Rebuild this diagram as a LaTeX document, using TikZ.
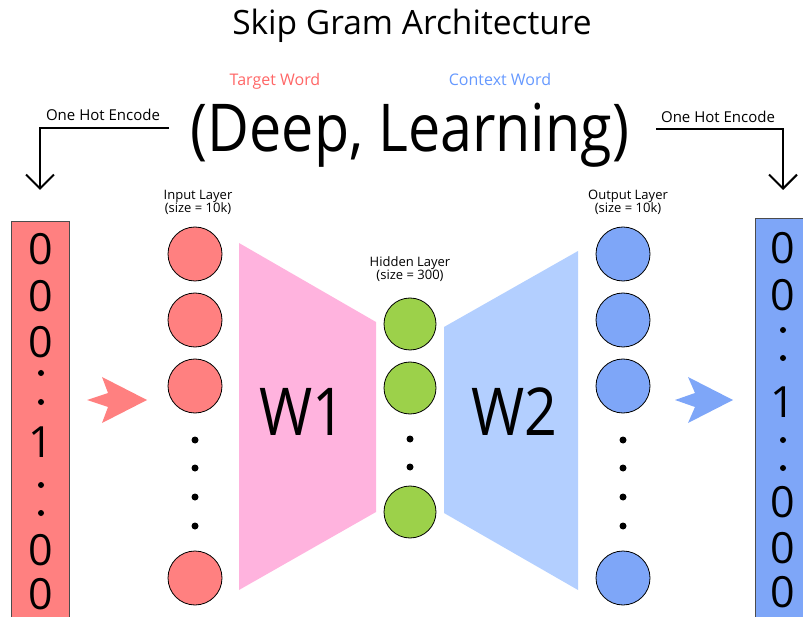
\documentclass[tikz,border=0pt]{standalone}
\usepackage{fontspec}
\usepackage{graphicx}
\setmainfont{Open Sans}
\usetikzlibrary{arrows.meta}

\definecolor{redin}{HTML}{FF8080}
\definecolor{blueout}{HTML}{7EA6F8}
\definecolor{pinkw}{HTML}{FFB3DE}
\definecolor{bluew}{HTML}{B3CFFF}
\definecolor{greenh}{HTML}{9CD14A}
\definecolor{redtxt}{HTML}{FF6666}
\definecolor{bluetxt}{HTML}{6699FF}
\newcommand{\fs}[1]{\fontsize{#1}{#1}\selectfont}
\newcommand{\narrow}[1]{\scalebox{0.87}[1]{#1}}

\begin{document}
\begin{tikzpicture}[x=1pt,y=-1pt,
  neuron/.style={draw,circle,line width=0.8pt,minimum size=54pt,inner sep=0pt},
  hneuron/.style={neuron,minimum size=52pt,fill=greenh},
  vecbox/.style={draw=black!70,line width=1.2pt,minimum width=58pt,minimum height=410pt,anchor=north west,inner sep=0pt},
  digit/.style={font=\fs{43},inner sep=0pt},
  lbl/.style={font=\fs{13},align=center,inner sep=0pt,anchor=north},
  onehot/.style={line width=2pt,-{Straight Barb[length=14pt,width=28pt]}}]
\useasboundingbox (0,0) rectangle (803,617);
\clip (0,0) rectangle (803,617);

% texts at the top
\node[font=\fs{33.5},anchor=base] (title) at (412,35) {Skip Gram Architecture};
\node[font=\fs{16},text=redtxt,anchor=base] (tgt) at (275,86) {Target Word};
\node[font=\fs{16},text=bluetxt,anchor=base] (ctx) at (500,86) {Context Word};
\node[font=\fs{66},anchor=base] (pair) at (410,152) {\narrow{(Deep, Learning)}};
\node[font=\fs{15},anchor=base] (ohtl) at (103,121) {One Hot Encode};
\node[font=\fs{15},anchor=base] (ohtr) at (718,123) {One Hot Encode};

\coordinate (ohlA) at (169,128);
\coordinate (ohlB) at (40,190);
\coordinate (ohrA) at (656,129);
\coordinate (ohrB) at (783,190);
\draw[onehot] (ohlA) -| (ohlB);
\draw[onehot] (ohrA) -| (ohrB);

% one hot vectors
\node[vecbox,fill=redin] (vecin) at (11,221) {};
\node[vecbox,fill=blueout] (vecout) at (755,218) {};
\node[digit] (i0) at (41,249) {0};
\node[digit] (i1) at (41,296) {0};
\node[digit] (i2) at (41,342) {0};
\node[digit] (i3) at (41,442) {1};
\node[digit] (i4) at (41,550) {0};
\node[digit] (i5) at (41,594) {0};
\foreach \y in {373,402,485,513} \fill (41,\y) circle (3pt);
\node[digit] (o0) at (783,248) {0};
\node[digit] (o1) at (783,295) {0};
\node[digit] (o2) at (783,402) {1};
\node[digit] (o3) at (783,502) {0};
\node[digit] (o4) at (783,548) {0};
\node[digit] (o5) at (783,592) {0};
\foreach \y in {330,358,440,468} \fill (783,\y) circle (3pt);

% arrows
\fill[redin] (87,400) -- (108,393) -- (102,377) -- (147,400) -- (102,423) -- (108,407) -- cycle;
\fill[blueout] (675,400) -- (695,393) -- (688,377) -- (733,400) -- (688,423) -- (695,407) -- cycle;

% weights
\fill[pinkw] (239,243) -- (376,322) -- (376,512) -- (239,590) -- cycle;
\fill[bluew] (444,327) -- (578,251) -- (578,590) -- (444,513) -- cycle;
\node[font=\fs{66},anchor=base] (w1) at (302,435) {\narrow{W1}};
\node[font=\fs{66},anchor=base] (w2) at (514,435) {\narrow{W2}};

% layers
\node[lbl] (inlbl) at (198,190) {Input Layer\\(size = 10k)};
\node[lbl] (hidlbl) at (410,256) {Hidden Layer\\(size = 300)};
\node[lbl] (outlbl) at (628,190) {Output Layer\\(size = 10k)};

\node[neuron,fill=redin] (in0) at (195,254) {};
\node[neuron,fill=redin] (in1) at (195,320) {};
\node[neuron,fill=redin] (in2) at (195,386) {};
\node[neuron,fill=redin] (in3) at (195,578) {};
\foreach \y in {440,468,497,526} \fill (195,\y) circle (3.5pt);

\node[hneuron] (h0) at (410,324) {};
\node[hneuron] (h1) at (410,388) {};
\node[hneuron] (h2) at (410,512) {};
\foreach \y in {439,467} \fill (410,\y) circle (3.5pt);

\node[neuron,fill=blueout] (out0) at (623,254) {};
\node[neuron,fill=blueout] (out1) at (623,320) {};
\node[neuron,fill=blueout] (out2) at (623,386) {};
\node[neuron,fill=blueout] (out3) at (623,578) {};
\foreach \y in {440,468,497,526} \fill (623,\y) circle (3.5pt);

\end{tikzpicture}
\end{document}
